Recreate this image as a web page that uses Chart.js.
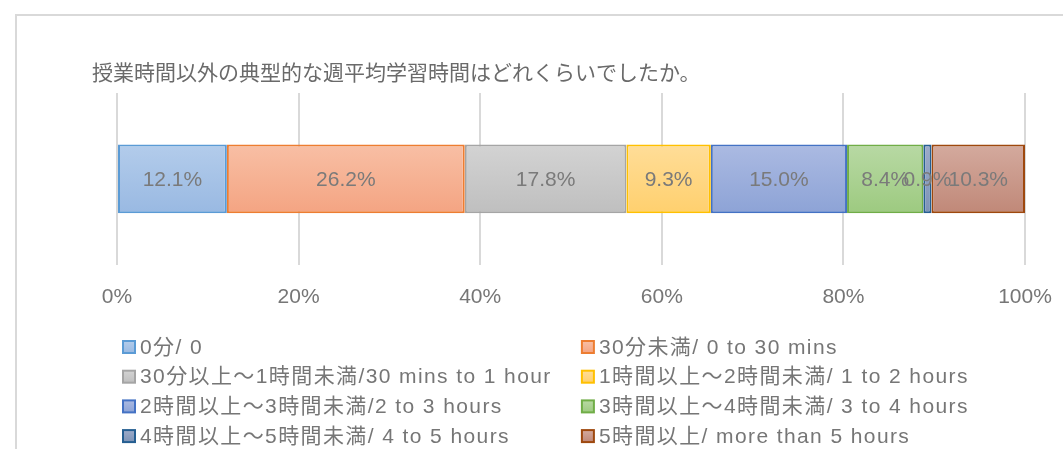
<!DOCTYPE html>
<html>
<head>
<meta charset="utf-8">
<script src="https://cdn.jsdelivr.net/npm/chart.js@4/dist/chart.umd.min.js"></script>
<style>
  html, body { margin: 0; padding: 0; background: #ffffff; overflow: hidden; width: 1063px; height: 449px; }
  #frame { position: absolute; left: 15px; top: 14px; width: 1200px; height: 600px; border: 2px solid #d9d9d9; box-sizing: border-box; }
  #c { position: absolute; left: 0; top: 0; }
</style>
</head>
<body>
<div id="frame"></div>
<canvas id="c" width="1063" height="449"></canvas>
<script>
const chartTitle = '授業時間以外の典型的な週平均学習時間はどれくらいでしたか。';
const categories = [''];
const seriesLabels = [
  '0分/ 0',
  '30分未満/ 0 to 30 mins',
  '30分以上～1時間未満/30 mins to 1 hour',
  '1時間以上～2時間未満/ 1 to 2 hours',
  '2時間以上～3時間未満/2 to 3 hours',
  '3時間以上～4時間未満/ 3 to 4 hours',
  '4時間以上～5時間未満/ 4 to 5 hours',
  '5時間以上/ more than 5 hours'
];
const seriesValues = [12.1, 26.2, 17.8, 9.3, 15.0, 8.4, 0.9, 10.3];
const xTickValues = [0, 20, 40, 60, 80, 100];

const fillTop    = ['#b3cceb', '#f8bfa5', '#d3d3d3', '#ffdd98', '#abbae2', '#b8d9a4', '#9dabc9', '#d4aa9e'];
const fillBottom = ['#99b9e2', '#f4a482', '#bfbfbf', '#ffd06e', '#8da3d6', '#9dca80', '#7d93b6', '#c08878'];
const borders    = ['#5b9bd5', '#ed7d31', '#a5a5a5', '#ffc000', '#4472c4', '#70ad47', '#255e91', '#9e480e'];

const LATIN = '"Liberation Sans", "Noto Sans CJK JP", sans-serif';
const textGray = '#767676';

function gradFor(i) {
  return function (ctx) {
    const chart = ctx.chart;
    const ca = chart.chartArea;
    if (!ca) return fillBottom[i];
    const mid = (ca.top + ca.bottom) / 2;
    const half = (ca.bottom - ca.top) * 0.2;
    const g = chart.ctx.createLinearGradient(0, mid - half, 0, mid + half);
    g.addColorStop(0, fillTop[i]);
    g.addColorStop(1, fillBottom[i]);
    return g;
  };
}

const datasets = seriesLabels.map((lab, i) => ({
  label: lab,
  data: [seriesValues[i]],
  backgroundColor: gradFor(i),
  borderColor: borders[i],
  borderWidth: 2,
  borderSkipped: false,
  categoryPercentage: 1.0,
  barPercentage: 0.4
}));

const valueLabels = {
  id: 'valueLabels',
  afterDatasetsDraw(chart) {
    const ctx = chart.ctx;
    ctx.save();
    ctx.font = '21px ' + LATIN;
    ctx.fillStyle = '#7a7a7a';
    ctx.textAlign = 'center';
    ctx.textBaseline = 'middle';
    chart.data.datasets.forEach((ds, i) => {
      const meta = chart.getDatasetMeta(i);
      meta.data.forEach((el, j) => {
        const v = ds.data[j];
        const x = (el.x + el.base) / 2;
        ctx.fillText(v.toFixed(1) + '%', x, el.y + 1);
      });
    });
    ctx.restore();
  }
};

const twoColLegend = {
  id: 'twoColLegend',
  afterDraw(chart) {
    const ctx = chart.ctx;
    const ca = chart.chartArea;
    const xs = chart.scales.x;
    const col0 = ca.left + 6;
    const col1 = ca.left + (ca.right - ca.left) * 0.512;
    const y0 = xs.bottom + 17;
    const rowH = 29.7;
    const box = 12;
    ctx.save();
    ctx.font = '21px ' + LATIN;
    ctx.textBaseline = 'middle';
    ctx.textAlign = 'left';
    try { ctx.letterSpacing = '1.4px'; } catch (e) {}
    chart.data.datasets.forEach((ds, i) => {
      const col = i % 2;
      const row = Math.floor(i / 2);
      const bx = col === 0 ? col0 : col1;
      const cy = y0 + row * rowH;
      const g = ctx.createLinearGradient(0, cy - box / 2, 0, cy + box / 2);
      g.addColorStop(0, fillTop[i]);
      g.addColorStop(1, fillBottom[i]);
      ctx.fillStyle = g;
      ctx.fillRect(bx, cy - box / 2, box, box);
      ctx.lineWidth = 2;
      ctx.strokeStyle = borders[i];
      ctx.strokeRect(bx, cy - box / 2, box, box);
      ctx.fillStyle = textGray;
      ctx.fillText(ds.label, bx + box + 5, cy + 1);
    });
    ctx.restore();
  }
};

new Chart(document.getElementById('c'), {
  type: 'bar',
  data: { labels: categories, datasets: datasets },
  plugins: [valueLabels, twoColLegend],
  options: {
    indexAxis: 'y',
    responsive: false,
    animation: false,
    devicePixelRatio: 1,
    layout: { padding: { left: 92, right: 38, top: 0, bottom: 119 } },
    plugins: {
      legend: { display: false },
      tooltip: { enabled: false },
      title: {
        display: true,
        text: chartTitle,
        align: 'start',
        color: '#6a6a6a',
        font: { family: '"Noto Sans CJK JP", sans-serif', size: 21, weight: 'normal', lineHeight: 1.2 },
        padding: { top: 59.4, bottom: 8.4 }
      }
    },
    scales: {
      x: {
        stacked: true,
        min: 0,
        max: 100,
        afterBuildTicks(scale) { scale.ticks = xTickValues.map(v => ({ value: v })); },
        afterFit(scale) { scale.paddingLeft = 0; scale.paddingRight = 0; },
        ticks: {
          callback: v => v + '%',
          color: textGray,
          font: { family: LATIN, size: 21, lineHeight: 1.2 },
          padding: 20,
          maxRotation: 0
        },
        grid: { color: '#d9d9d9', lineWidth: 2, drawTicks: false },
        border: { display: false }
      },
      y: {
        stacked: true,
        ticks: { display: false },
        grid: { display: false, drawTicks: false },
        border: { display: false },
        afterFit(scale) { scale.width = 25; }
      }
    }
  }
});
</script>
</body>
</html>
